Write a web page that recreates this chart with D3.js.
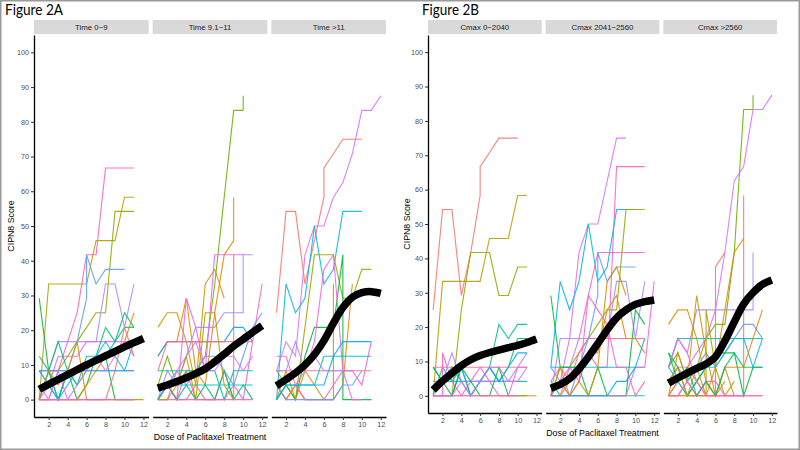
<!DOCTYPE html>
<html><head><meta charset="utf-8">
<script src="https://cdn.jsdelivr.net/npm/d3@7"></script>
<style>body{margin:0;background:#fff}svg{display:block}</style>
</head><body>
<svg id="c" width="800" height="450"></svg>
<script>
// ---------- data ----------
const palette = ["#F8766D","#E58700","#D39200","#B79F00","#93AA00","#6BB100","#00BA38","#00BF74","#00C19F","#00BFC4","#00B9E3","#00A9FF","#619CFF","#AE87FF","#DB72FB","#F564E3","#FF61C3","#FF6C91"];
const stripsA = ["Time 0\u22129","Time 9.1\u221211","Time >11"];
const stripsB = ["Cmax 0\u22122040","Cmax 2041\u22122560","Cmax >2560"];
const xTicks = [2,4,6,8,10,12];
const yTicks = [0,10,20,30,40,50,60,70,80,90,100];
const doseDomain = [1,12];
const scoreDomain = [0,100];

const panelA1 = [
 {p:16, v:[0,0,8.3,16.7,25,41.7,41.7,66.7,66.7,66.7,66.7]},
 {p:3,  v:[0,33.3,33.3,33.3,33.3,33.3,45.8,45.8,45.8,58.3,58.3]},
 {p:4,  v:[0,8.3,8.3,12.5,16.7,20.8,25,25,54.2,54.2,54.2]},
 {p:12, v:[8.3,4.2,0,8.3,16.7,[29.2,41.7],33.3,37.5,37.5,37.5]},
 {p:13, v:[0,8.3,16.7,16.7,16.7,16.7,16.7,33.3,33.3,20.8,33.3]},
 {p:15, v:[0,4.2,12.5,12.5,12.5,16.7,16.7,16.7,16.7,16.7,16.7]},
 {p:17, v:[8.3,8.3,8.3,8.3,8.3,8.3,8.3,8.3,8.3,8.3,8.3]},
 {p:6,  v:[29.2,8.3,0,8.3,0,4.2,12.5,12.5,0,0,0]},
 {p:7,  v:[12.5,8.3,16.7,8.3,4.2,8.3,12.5,20.8,16.7,25,20.8]},
 {p:8,  v:[0,8.3,0,8.3,4.2,12.5,12.5,12.5,16.7,20.8,20.8]},
 {p:1,  v:[0,0,0,0,0,4.2,8.3,12.5,12.5,16.7,25]},
 {p:0,  v:[0,0,0,0,0,0,0,0,8.3,20.8,12.5]},
 {p:10, v:[8.3,4.2,0,4.2,8.3,8.3,12.5,16.7,12.5,8.3,16.7]},
 {p:11, v:[8.3,8.3,8.3,8.3,8.3,8.3,8.3,8.3,8.3,8.3,8.3]},
 {p:2,  v:[0,8.3,4.2,8.3,16.7,0,0,0,0,0,0,0]},
 {p:16, v:[0,0,0,0,0,0,0,0,0,0,0]},
 {p:14, v:[4.2,0,8.3,0,4.2,8.3,12.5,8.3,12.5,16.7,12.5]}
];
const panelA2 = [
 {p:5,  v:[4.2,12.5,4.2,8.3,8.3,12.5,33.3,58.3,83.3,[83.3,87.5]]},
 {p:2,  v:[20.8,25,25,16.7,4.2,33.3,37.5,29.2]},
 {p:1,  v:[12.5,16.7,16.7,29.2,8.3,4.2,25,41.7,[45.8,58.3]]},
 {p:0,  v:[0,4.2,0,0,4.2,0,0,8.3,[0,41.7]]},
 {p:13, v:[0,8.3,4.2,12.5,20.8,20.8,20.8,25,25,[25,41.7],41.7]},
 {p:15, v:[0,4.2,0,29.2,20.8,8.3,41.7,41.7,41.7,41.7]},
 {p:16, v:[0,4.2,0,8.3,0,0,0,0,4.2,0,16.7,33.3]},
 {p:12, v:[0,4.2,8.3,4.2,8.3,12.5,12.5,8.3,4.2,12.5,20.8,25]},
 {p:11, v:[12.5,16.7,16.7,16.7,16.7,16.7,16.7,16.7,20.8,20.8,16.7]},
 {p:17, v:[8.3,16.7,16.7,16.7,16.7,16.7,16.7,16.7,16.7,16.7,16.7]},
 {p:8,  v:[8.3,8.3,8.3,8.3,8.3,8.3,8.3,0,8.3,8.3,8.3]},
 {p:7,  v:[0,4.2,0,4.2,0,4.2,0,8.3,0,4.2,0]},
 {p:9,  v:[4.2,4.2,4.2,4.2,4.2,4.2,4.2,4.2,4.2,4.2,4.2]},
 {p:14, v:[0,0,8.3,12.5,16.7,8.3,8.3,12.5,12.5,8.3,12.5]},
 {p:16, v:[0,0,0,0,0,0,0,0,0,0,0]},
 {p:3,  v:[0,0,4.2,12.5,0,25,25,4.2,0]}
];
const panelA3 = [
 {p:14, v:[8.3,16.7,12.5,41.7,50,50,58.3,62.5,70.8,83.3,83.3,87.5]},
 {p:0,  v:[25,54.2,54.2,33.3,45.8,[58.3,66.7],70.8,75,75,75]},
 {p:10, v:[0,33.3,25,29.2,50,33.3,37.5,54.2,54.2,54.2]},
 {p:4,  v:[8.3,4.2,0,20.8,41.7,41.7,41.7,29.2,29.2,37.5,37.5]},
 {p:6,  v:[0,4.2,0,12.5,20.8,20.8,20.8,[41.7,0],0,0,0]},
 {p:15, v:[4.2,0,4.2,8.3,16.7,37.5,41.7,8.3,0,0]},
 {p:2,  v:[0,8.3,0,8.3,4.2,0,[0,33.3]]},
 {p:1,  v:[4.2,0,4.2,0,0,0,0,4.2,33.3]},
 {p:17, v:[8.3,8.3,8.3,8.3,8.3,8.3,8.3,8.3,8.3,8.3,8.3]},
 {p:16, v:[12.5,12.5,4.2,0,0,0,4.2,8.3,8.3,4.2,16.7]},
 {p:11, v:[0,4.2,4.2,4.2,4.2,4.2,12.5,16.7,16.7,16.7,16.7]},
 {p:9,  v:[0,4.2,4.2,4.2,4.2,12.5,12.5,12.5,12.5,12.5,12.5]},
 {p:12, v:[4.2,0,0,0,0,0,0,4.2,4.2,8.3]},
 {p:13, v:[8.3,8.3,16.7,8.3,12.5,8.3,8.3,8.3,8.3]}
];
const panelB1 = [
 {p:0,  v:[25,54.2,54.2,29.2,41.7,[58.3,66.7],70.8,75,75,75]},
 {p:3,  v:[0,33.3,33.3,33.3,33.3,33.3,45.8,45.8,45.8,58.3,58.3]},
 {p:4,  v:[0,0,0,25,41.7,41.7,41.7,29.2,29.2,37.5,37.5]},
 {p:8,  v:[0,8.3,4.2,8.3,0,4.2,8.3,20.8,16.7,20.8,20.8]},
 {p:17, v:[8.3,8.3,8.3,8.3,8.3,8.3,8.3,8.3,8.3,8.3,8.3]},
 {p:9,  v:[4.2,4.2,4.2,4.2,4.2,4.2,4.2,4.2,4.2,4.2,4.2]},
 {p:16, v:[0,[0,12.5],4.2,0,4.2,8.3,4.2,0,0,8.3,8.3]},
 {p:13, v:[4.2,4.2,12.5,4.2,4.2,4.2,4.2,4.2,4.2,8.3,12.5]},
 {p:7,  v:[8.3,4.2,8.3,4.2,0,4.2,8.3,4.2,8.3,16.7,16.7]},
 {p:11, v:[0,0,0,8.3,0,4.2,8.3,4.2,8.3,12.5,12.5]},
 {p:6,  v:[8.3,4.2,0,8.3,4.2,0,0,8.3,0,0,0]},
 {p:2,  v:[0,0,0,0,0,0,0,0,0,0,0,0]},
 {p:14, v:[0,0,0,4.2,0,4.2,8.3,8.3,4.2,4.2,8.3]},
 {p:15, v:[0,0,0,0,0,0,0,0,0,0]}
];
const panelB2 = [
 {p:14, v:[0,4.2,16.7,41.7,50,50,62.5,75,75]},
 {p:16, v:[0,0,8.3,4.2,12.5,8.3,8.3,66.7,66.7,66.7,66.7]},
 {p:10, v:[8.3,33.3,25,33.3,50,33.3,37.5,54.2,54.2,54.2]},
 {p:4,  v:[0,8.3,8.3,12.5,16.7,20.8,25,25,54.2,54.2,54.2]},
 {p:15, v:[0,4.2,8.3,16.7,29.2,41.7,41.7,41.7,41.7,41.7,41.7]},
 {p:12, v:[8.3,4.2,0,8.3,16.7,[29.2,41.7],33.3,37.5,37.5,37.5]},
 {p:13, v:[0,16.7,16.7,16.7,16.7,16.7,16.7,33.3,33.3,16.7,33.3]},
 {p:17, v:[4.2,8.3,4.2,12.5,16.7,16.7,16.7,16.7,16.7,16.7,16.7]},
 {p:9,  v:[8.3,8.3,8.3,8.3,8.3,8.3,8.3,8.3,8.3,8.3,8.3]},
 {p:6,  v:[29.2,8.3,8.3,8.3,0,8.3,0,0,0,25,20.8]},
 {p:8,  v:[4.2,0,0,0,0,0,0,0,0,0,0]},
 {p:16, v:[0,4.2,0,4.2,29.2,25,20.8,8.3,8.3,0,4.2]},
 {p:15, v:[0,0,0,0,0,0,0,0,0,8.3,8.3,33.3]},
 {p:1,  v:[0,0,4.2,8.3,12.5,12.5,25,29.2,16.7,16.7,12.5]},
 {p:11, v:[0,0,0,0,0,0,0,4.2,4.2,8.3,16.7]},
 {p:2,  v:[0,8.3,0,4.2,0,8.3,33.3,37.5,29.2]}
];
const panelB3 = [
 {p:5,  v:[8.3,12.5,4.2,8.3,16.7,20.8,20.8,41.7,83.3,[83.3,87.5]]},
 {p:14, v:[4.2,8.3,8.3,12.5,16.7,25,41.7,62.5,66.7,83.3,83.3,87.5]},
 {p:0,  v:[0,0,4.2,0,0,[0,37.5],41.7]},
 {p:1,  v:[0,4.2,8.3,4.2,0,8.3,25,41.7,45.8]},
 {p:0,  v:[0,4.2,0,0,4.2,0,0,0,[0,58.3]]},
 {p:13, v:[8.3,16.7,12.5,25,25,25,25,25,25,[25,41.7]]},
 {p:12, v:[4.2,8.3,4.2,8.3,12.5,8.3,12.5,16.7,20.8,20.8,16.7]},
 {p:9,  v:[8.3,16.7,16.7,16.7,16.7,16.7,16.7,16.7,16.7,16.7,16.7]},
 {p:10, v:[8.3,4.2,0,4.2,8.3,8.3,12.5,16.7,16.7,8.3,16.7]},
 {p:6,  v:[12.5,8.3,0,4.2,8.3,12.5,12.5,12.5,0,8.3,8.3]},
 {p:0,  v:[0,0,0,0,0,0,0,0,0,0,0]},
 {p:1,  v:[0,0,0,0,0,0,8.3,8.3,8.3,16.7,25]},
 {p:2,  v:[20.8,25,25,16.7,4.2,0,4.2]},
 {p:3,  v:[4.2,8.3,0,8.3,[0,25],8.3,0,4.2]},
 {p:2,  v:[0,12.5,4.2,29.2,12.5,0,8.3,0]},
 {p:16, v:[0,0,4.2,0,4.2,4.2,0,0,0,0,0]},
 {p:15, v:[8.3,16.7,12.5,4.2,0,0,0,0,0]},
 {p:7,  v:[12.5,4.2,8.3,0,4.2,0,8.3,12.5,8.3,8.3,8.3]}
];
// loess smooth values at doses 1..12
const smoothA1 = [3,4.4,5.8,7.2,8.6,10,11.3,12.6,13.9,15.2,16.4,17.6];
const smoothA2 = [3.3,4.2,5.2,6.3,7.5,8.9,10.9,13.1,15.4,17.4,19.4,21.3];
const smoothA3 = [4,5.8,7.7,10,13,17,22,26.5,29.5,30.8,31.1,30.6];
const smoothB1 = [1.7,4.3,6.6,8.8,10.5,11.7,12.6,13.3,14,14.7,15.5,16.5];
const smoothB2 = [2.2,3.3,5,7.8,11.3,15.2,19.2,22.7,25,26.6,27.4,27.9];
const smoothB3 = [3.7,5.2,6.6,8,9.3,11.4,16,21.5,26.7,30,32.4,33.7];

// ---------- drawing ----------
const svg = d3.select("#c");
svg.append("rect").attr("x",0).attr("y",0).attr("width",800).attr("height",450).attr("fill","#fff");
const color = d3.scaleOrdinal().domain(d3.range(palette.length)).range(palette);

function toPoints(v){
  const pts=[];
  v.forEach((d,i)=>{ if(d==null) return;
    if(Array.isArray(d)) d.forEach(e=>pts.push([i+1,e])); else pts.push([i+1,d]); });
  return pts;
}
function expand(dom, f){ const r=dom[1]-dom[0]; return [dom[0]-r*f, dom[1]+r*f]; }

function drawFigure(cfg, L){
  const g = svg.append("g");
  g.append("text").attr("x",L.titleX).attr("y",14.5).text(cfg.title)
    .attr("font-family","Lato, 'Open Sans', sans-serif").attr("font-size",16)
    .attr("textLength",L.titleW).attr("lengthAdjust","spacingAndGlyphs").attr("fill","#000");
  const pw = (L.right-L.left-2*L.gap)/3;
  const y = d3.scaleLinear().domain(expand(scoreDomain,0.05)).range([L.bottom,L.top]);
  cfg.panels.forEach((series,k)=>{
    const x0 = L.left + k*(pw+L.gap);
    const x = d3.scaleLinear().domain(expand(doseDomain,0.05)).range([x0,x0+pw]);
    // strip
    g.append("rect").attr("x",x0).attr("y",L.stripTop).attr("width",pw).attr("height",L.top-L.stripTop-1).attr("fill","#D9D9D9");
    g.append("text").attr("x",x0+pw/2).attr("y",(L.stripTop+L.top)/2+2.7).attr("text-anchor","middle")
      .attr("font-family","'Liberation Sans', Arial, sans-serif").attr("font-size",7.8).attr("fill","#1A1A1A").text(cfg.strips[k]);
    const line = d3.line().x(d=>x(d[0])).y(d=>y(d[1]));
    g.append("g").selectAll("path").data(series).join("path")
      .attr("d",s=>line(toPoints(s.v))).attr("fill","none")
      .attr("stroke",s=>color(s.p)).attr("stroke-width",1.1).attr("stroke-opacity",0.9);
    const sm = d3.line().curve(d3.curveCatmullRom.alpha(0.5)).x((d,i)=>x(i+1)).y(d=>y(d));
    g.append("path").attr("d",sm(cfg.smooth[k])).attr("fill","none").attr("stroke","#000")
      .attr("stroke-width",7.5).attr("stroke-linecap","butt");
    // x axis
    const ax = g.append("g").attr("transform",`translate(0,${L.bottom})`)
      .call(d3.axisBottom(x).tickValues(xTicks).tickSize(3).tickSizeOuter(0).tickPadding(2));
    ax.select(".domain").attr("stroke","#000").attr("stroke-width",1.3);
    ax.selectAll(".tick line").attr("stroke","#333");
    ax.selectAll(".tick text").attr("fill","#4D4D4D").attr("font-size",7.2)
      .attr("font-family","'Liberation Sans', Arial, sans-serif");
    if(k===0){
      const ay = g.append("g").attr("transform",`translate(${x0},0)`)
        .call(d3.axisLeft(y).tickValues(yTicks).tickSize(3).tickSizeOuter(0).tickPadding(2));
      ay.select(".domain").attr("stroke","#000").attr("stroke-width",1.3);
      ay.selectAll(".tick line").attr("stroke","#333");
      ay.selectAll(".tick text").attr("fill","#4D4D4D").attr("font-size",7.2)
        .attr("font-family","'Liberation Sans', Arial, sans-serif");
    }
  });
  g.append("text").attr("transform",`translate(${L.ytitleX},${(L.top+L.bottom)/2}) rotate(-90)`)
    .attr("text-anchor","middle").attr("font-family","'Liberation Sans', Arial, sans-serif")
    .attr("font-size",8.8).attr("fill","#000").text("CIPN8 Score");
  g.append("text").attr("x",(L.left+L.right)/2).attr("y",L.xtitleY).attr("text-anchor","middle")
    .attr("font-family","'Liberation Sans', Arial, sans-serif").attr("font-size",8.8).attr("fill","#000")
    .text("Dose of Paclitaxel Treatment");
}

drawFigure({title:"Figure 2A", strips:stripsA, panels:[panelA1,panelA2,panelA3], smooth:[smoothA1,smoothA2,smoothA3]},
  {left:34,right:386,gap:4,top:35,bottom:417,stripTop:20,titleX:5,titleW:58,ytitleX:14,xtitleY:440});
drawFigure({title:"Figure 2B", strips:stripsB, panels:[panelB1,panelB2,panelB3], smooth:[smoothB1,smoothB2,smoothB3]},
  {left:428,right:777,gap:4,top:35,bottom:413,stripTop:20,titleX:422,titleW:57,ytitleX:410,xtitleY:436});

svg.append("rect").attr("x",0.75).attr("y",0.75).attr("width",798.5).attr("height",448.5)
  .attr("fill","none").attr("stroke","#9A9A9A").attr("stroke-width",1.5);
</script>
</body></html>
